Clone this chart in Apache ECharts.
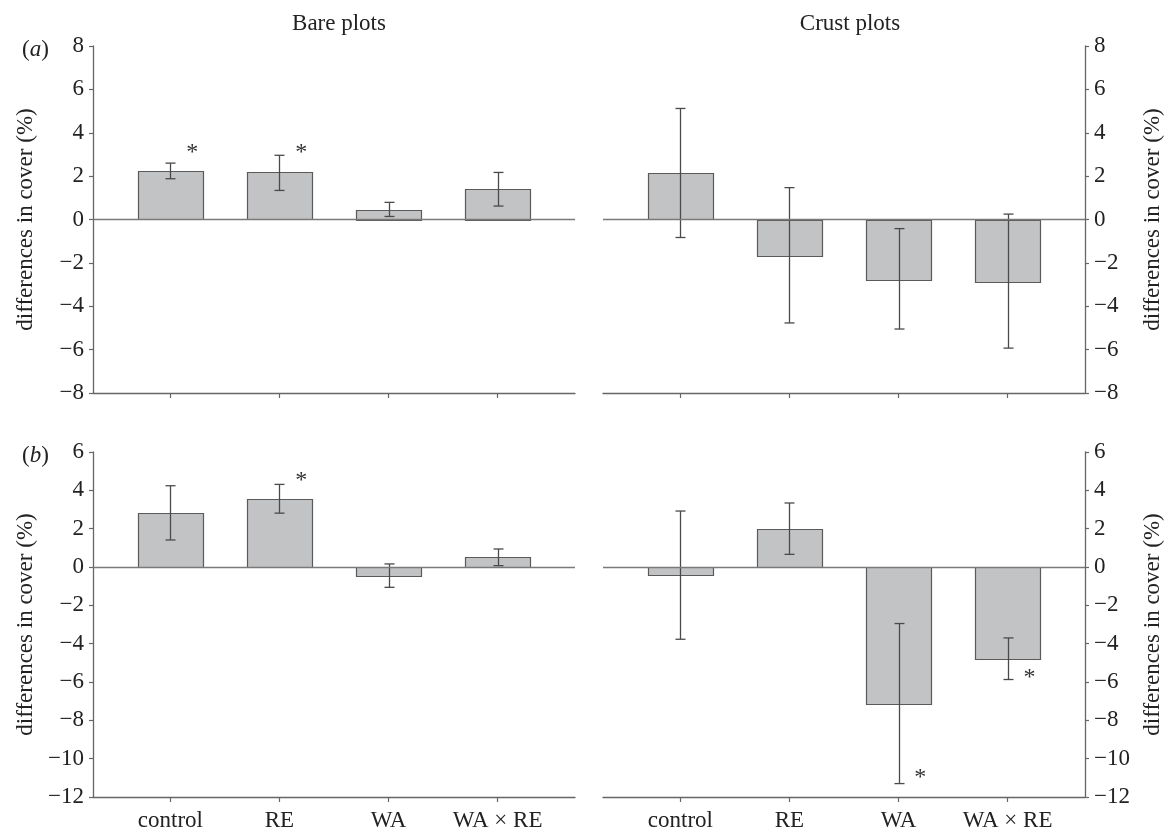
<!DOCTYPE html>
<html>
<head>
<meta charset="utf-8">
<script src="https://cdn.jsdelivr.net/npm/echarts@6/dist/echarts.min.js"></script>
<style>
html,body{margin:0;padding:0;background:#fff;}
#chart{width:1165px;height:836px;}
</style>
</head>
<body>
<div id="chart"></div>
<script>
// ---- data ----
var categories = ['control', 'RE', 'WA', 'WA × RE'];
var categoryIndex = [0, 1, 2, 3];

var bareA_mean = [2.22, 2.17, 0.46, 1.42];
var bareA_lo   = [1.88, 1.34, 0.14, 0.62];
var bareA_hi   = [2.60, 2.96, 0.79, 2.17];

var crustA_mean = [2.14, -1.67, -2.75, -2.87];
var crustA_lo   = [-0.83, -4.77, -5.05, -5.93];
var crustA_hi   = [5.12, 1.47, -0.42, 0.25];

var bareB_mean = [2.81, 3.56, -0.45, 0.50];
var bareB_lo   = [1.41, 2.81, -1.06, 0.07];
var bareB_hi   = [4.24, 4.31, 0.16, 0.94];

var crustB_mean = [-0.42, 2.00, -7.14, -4.80];
var crustB_lo   = [-3.77, 0.66, -11.30, -5.87];
var crustB_hi   = [2.92, 3.34, -2.95, -3.70];

// significance markers: [category index, y value]
var starsBareA = [[0, 3.1], [1, 3.1]];
var starsCrustA = [];
var starsBareB = [[1, 4.5]];
var starsCrustB = [[2, -11.0], [3, -5.8]];

var topTicks = {min: -8, max: 8, interval: 2};
var bottomTicks = {min: -12, max: 6, interval: 2};

var panelTitles = ['Bare plots', 'Crust plots'];
var yName = 'differences in cover (%)';

// ---- styling ----
var FONT = 'Liberation Serif';
var TXT = '#222';
var AX = '#666';

function fmt(v) { return v < 0 ? '\u2212' + Math.abs(v) : String(v); }

function makeData(mean, lo, hi) {
  return categoryIndex.map(function (c, i) { return [c, mean[i], lo[i], hi[i]]; });
}

function renderBar(params, api) {
  var x = api.value(0), m = api.value(1), lo = api.value(2), hi = api.value(3);
  var halfW = 0.3;
  var p0 = api.coord([x - halfW, 0]);
  var p1 = api.coord([x + halfW, m]);
  var top = Math.min(p0[1], p1[1]);
  var h = Math.abs(p1[1] - p0[1]);
  var cLo = api.coord([x, lo]);
  var cHi = api.coord([x, hi]);
  var cx = Math.round(cLo[0]) + 0.5;
  var cap = 5;
  var ls = {stroke: '#4a4a4a', lineWidth: 1.3};
  return {
    type: 'group',
    children: [
      {type: 'rect', shape: {x: Math.round(p0[0]) + 0.5, y: Math.round(top) + 0.5, width: Math.round(p1[0] - p0[0]), height: Math.round(h)},
       style: {fill: '#c2c3c5', stroke: '#5a5a5a', lineWidth: 1.2}},
      {type: 'line', shape: {x1: cx, y1: cLo[1], x2: cx, y2: cHi[1]}, style: ls},
      {type: 'line', shape: {x1: cx - cap, y1: cLo[1], x2: cx + cap, y2: cLo[1]}, style: ls},
      {type: 'line', shape: {x1: cx - cap, y1: cHi[1], x2: cx + cap, y2: cHi[1]}, style: ls}
    ]
  };
}

function renderStar(params, api) {
  var p = api.coord([api.value(0) + 0.2, api.value(1)]);
  return {
    type: 'text',
    x: p[0], y: p[1],
    style: {text: '*', font: '24px "' + FONT + '"', fill: '#333', align: 'center', verticalAlign: 'middle'}
  };
}

var grids = [
  {left: 93, top: 46, width: 482, height: 347},
  {left: 603, top: 46, width: 483, height: 347},
  {left: 93, top: 452, width: 482, height: 345},
  {left: 603, top: 452, width: 483, height: 345}
];

function xAxisFor(gi, showLabels) {
  return {
    type: 'value', gridIndex: gi, min: -0.709, max: 3.709,
    axisLine: {show: true, onZero: false, lineStyle: {color: AX, width: 1.3}},
    axisTick: {show: true, customValues: categoryIndex, length: 5, lineStyle: {color: AX, width: 1.2}},
    axisLabel: {show: showLabels, customValues: categoryIndex, margin: 12,
      formatter: function (v) { return categories[Math.round(v)]; },
      fontFamily: FONT, fontSize: 23, color: TXT},
    splitLine: {show: false}
  };
}

function yAxisFor(gi, pos, t) {
  return {
    type: 'value', gridIndex: gi, position: pos, min: t.min, max: t.max, interval: t.interval,
    name: yName, nameLocation: 'middle', nameGap: 56,
    nameTextStyle: {fontFamily: FONT, fontSize: 23, color: TXT},
    axisLine: {show: true, onZero: false, lineStyle: {color: AX, width: 1.3}},
    axisTick: {show: true, length: 4, lineStyle: {color: AX, width: 1.2}},
    axisLabel: {fontFamily: FONT, fontSize: 23, color: TXT, margin: 9, formatter: fmt},
    splitLine: {show: false}
  };
}

var zeroLine = {
  silent: true, symbol: ['none', 'none'], label: {show: false},
  lineStyle: {color: '#7a7a7a', width: 1.3, type: 'solid'},
  data: [{yAxis: 0}]
};

function barSeries(i, mean, lo, hi) {
  return {type: 'custom', xAxisIndex: i, yAxisIndex: i, renderItem: renderBar,
    data: makeData(mean, lo, hi), markLine: zeroLine, z: 3, animation: false};
}
function starSeries(i, stars) {
  return {type: 'custom', xAxisIndex: i, yAxisIndex: i, renderItem: renderStar, data: stars, z: 4, animation: false};
}

var option = {
  backgroundColor: '#fff',
  animation: false,
  title: [
    {text: panelTitles[0], left: 334, top: 7, textAlign: 'center', textStyle: {fontFamily: FONT, fontSize: 23, fontWeight: 'normal', color: TXT}},
    {text: panelTitles[1], left: 845, top: 7, textAlign: 'center', textStyle: {fontFamily: FONT, fontSize: 23, fontWeight: 'normal', color: TXT}},
    {text: '({i|a})', left: 17, top: 33, textStyle: {fontFamily: FONT, fontSize: 23, fontWeight: 'normal', color: TXT,
      rich: {i: {fontFamily: FONT, fontSize: 23, fontStyle: 'italic', color: TXT}}}},
    {text: '({i|b})', left: 17, top: 439, textStyle: {fontFamily: FONT, fontSize: 23, fontWeight: 'normal', color: TXT,
      rich: {i: {fontFamily: FONT, fontSize: 23, fontStyle: 'italic', color: TXT}}}}
  ],
  grid: grids,
  xAxis: [xAxisFor(0, false), xAxisFor(1, false), xAxisFor(2, true), xAxisFor(3, true)],
  yAxis: [yAxisFor(0, 'left', topTicks), yAxisFor(1, 'right', topTicks), yAxisFor(2, 'left', bottomTicks), yAxisFor(3, 'right', bottomTicks)],
  series: [
    barSeries(0, bareA_mean, bareA_lo, bareA_hi),
    barSeries(1, crustA_mean, crustA_lo, crustA_hi),
    barSeries(2, bareB_mean, bareB_lo, bareB_hi),
    barSeries(3, crustB_mean, crustB_lo, crustB_hi),
    starSeries(0, starsBareA),
    starSeries(1, starsCrustA),
    starSeries(2, starsBareB),
    starSeries(3, starsCrustB)
  ]
};

var chart = echarts.init(document.getElementById('chart'), null, {renderer: 'canvas'});
chart.setOption(option);
</script>
</body>
</html>
